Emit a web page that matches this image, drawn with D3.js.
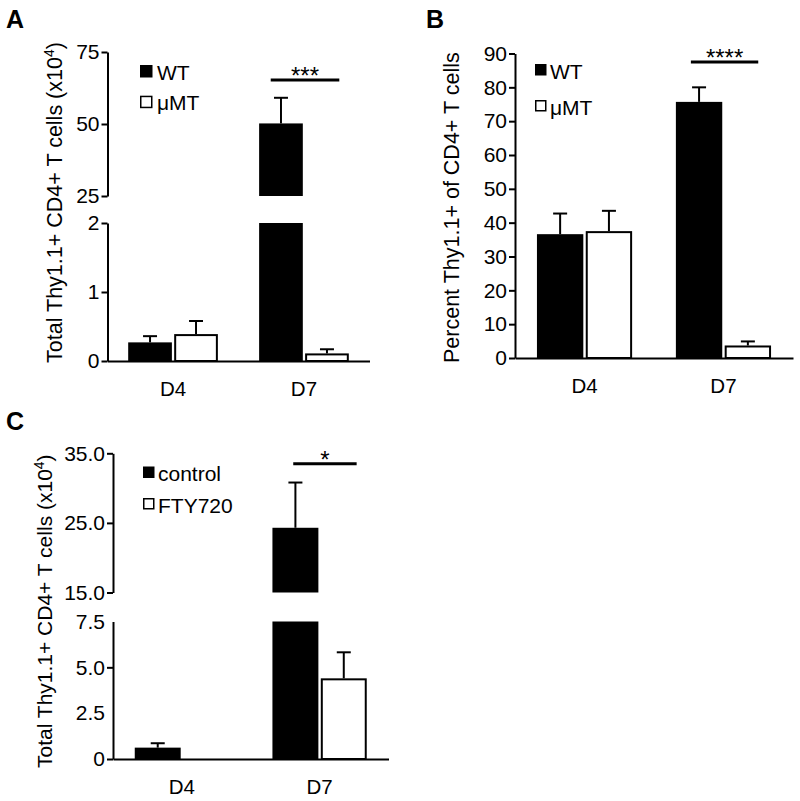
<!DOCTYPE html>
<html><head><meta charset="utf-8">
<script src="https://cdn.jsdelivr.net/npm/d3@7"></script>
<style>body{margin:0;background:#fff} svg{display:block}</style>
</head><body>
<svg id="chart" width="800" height="801"></svg>
<script>
// ---------------- DATA ----------------
const categories = ["D4", "D7"];

// Panel A
const aSeries = ["WT", "μMT"];
const aWT = [0.27, 50.2];
const aWTerr = [0.09, 8.9];
const aMT = [0.39, 0.11];
const aMTerr = [0.19, 0.06];
const aUpperTicks = [25, 50, 75];
const aUpperLabels = ["25", "50", "75"];
const aLowerTicks = [0, 1, 2];
const aLowerLabels = ["0", "1", "2"];
const aSigLevel = 65.3;
const aSigLabel = "***";

// Panel B
const bSeries = ["WT", "μMT"];
const bWT = [36.6, 75.7];
const bWTerr = [6.1, 4.3];
const bMT = [37.5, 3.7];
const bMTerr = [6.0, 1.2];
const bTicks = [0, 10, 20, 30, 40, 50, 60, 70, 80, 90];
const bLabels = ["0", "10", "20", "30", "40", "50", "60", "70", "80", "90"];
const bSigLevel = 87.5;
const bSigLabel = "****";

// Panel C
const cSeries = ["control", "FTY720"];
const cCtrl = [0.62, 24.3];
const cCtrlErr = [0.24, 6.5];
const cFTY = [0, 4.40];
const cFTYerr = [0, 1.42];
const cUpperTicks = [15, 25, 35];
const cUpperLabels = ["15.0", "25.0", "35.0"];
const cLowerTicks = [0, 2.5, 5, 7.5];
const cLowerLabels = ["0", "2.5", "5.0", "7.5"];
const cSigLevel = 33.5;
const cSigLabel = "*";

const titleAC = ["Total Thy1.1+ CD4+ T cells (x10", "4", ")"];
const titleB = ["Percent Thy1.1+ of CD4+ T cells"];

// ---------------- DRAW ----------------
const FONT = '"Liberation Sans", Arial, Helvetica, sans-serif';
const svg = d3.select("#chart");

function drawPanel(cfg) {
  const g = svg.append("g");
  const x = d3.scaleBand().domain(categories).range([cfg.axisX, cfg.xEnd])
    .paddingInner(0.315).paddingOuter(0.158);
  const xs = d3.scaleBand().domain(cfg.series).range([0, x.bandwidth()]).paddingInner(0.05);
  const segs = cfg.segments.map(s => Object.assign({}, s, {
    y: d3.scaleLinear().domain(s.domain).range(s.range)
  }));

  // y axis segments
  segs.forEach(s => {
    const ax = d3.axisLeft(s.y).tickValues(s.ticks)
      .tickFormat((d, i) => s.labels[i]).tickSize(6).tickSizeOuter(0).tickPadding(2);
    const ag = g.append("g").attr("transform", `translate(${cfg.axisX},0)`).call(ax);
    ag.attr("font-size", 21).attr("font-family", FONT);
    ag.select(".domain").attr("stroke", "#000").attr("stroke-width", 2);
    ag.selectAll(".tick line").attr("stroke", "#000").attr("stroke-width", 2)
      .attr("x2", d => (s.noTick && s.noTick.includes(d)) ? 0 : -6);
    ag.selectAll(".tick text").attr("fill", "#000");
  });

  // x axis
  const base = segs[0];
  const xg = g.append("g").attr("transform", `translate(0,${base.y(0)})`)
    .call(d3.axisBottom(x).tickSize(0).tickSizeOuter(0).tickPadding(20));
  xg.attr("font-size", 20.5).attr("font-family", FONT);
  xg.select(".domain").attr("stroke", "#000").attr("stroke-width", 2);
  xg.selectAll(".tick text").attr("fill", "#000");

  // bars
  cfg.series.forEach((ser, si) => {
    const filled = si === 0;
    categories.forEach((cat, ci) => {
      const v = cfg.values[si][ci];
      const e = cfg.errors[si][ci];
      const x0 = x(cat) + xs(ser);
      const w = xs.bandwidth();
      segs.forEach(s => {
        const lo = Math.max(0, s.domain[0]);
        const hi = Math.min(v, s.domain[1]);
        if (hi > lo) {
          const yt = s.y(hi), yb = s.y(lo);
          if (filled) {
            g.append("rect").attr("x", x0).attr("y", yt).attr("width", w).attr("height", yb - yt)
              .attr("fill", "#000");
          } else {
            g.append("rect").attr("x", x0 + 1).attr("y", yt + 1).attr("width", w - 2).attr("height", yb - yt - 1)
              .attr("fill", "#fff").attr("stroke", "#000").attr("stroke-width", 2);
          }
        }
      });
      // error bar
      if (v > 0 && e > 0) {
        const s = segs.find(s => v >= s.domain[0] && v <= s.domain[1]);
        if (s) {
          const cx = x0 + w / 2;
          const yv = s.y(v), ye = s.y(v + e);
          g.append("line").attr("x1", cx).attr("x2", cx).attr("y1", yv).attr("y2", ye)
            .attr("stroke", "#000").attr("stroke-width", 2);
          g.append("line").attr("x1", cx - 7).attr("x2", cx + 7).attr("y1", ye).attr("y2", ye)
            .attr("stroke", "#000").attr("stroke-width", 2);
        }
      }
    });
  });

  // significance
  const ss = segs[cfg.sig.seg];
  const sy = ss.y(cfg.sig.level);
  const sx1 = x(cfg.sig.cat) + cfg.sig.left;
  const sx2 = x(cfg.sig.cat) + x.bandwidth() - cfg.sig.right;
  g.append("line").attr("x1", sx1).attr("x2", sx2).attr("y1", sy).attr("y2", sy)
    .attr("stroke", "#000").attr("stroke-width", 3);
  g.append("text").attr("x", (sx1 + sx2) / 2).attr("y", sy + 4).attr("text-anchor", "middle")
    .attr("font-family", FONT).attr("font-size", 24).text(cfg.sig.label);

  // legend
  cfg.series.forEach((ser, si) => {
    const ly = cfg.legend.y + si * cfg.legend.dy;
    const sz = cfg.legend.size;
    if (si === 0) {
      g.append("rect").attr("x", cfg.legend.x).attr("y", ly).attr("width", sz).attr("height", sz).attr("fill", "#000");
    } else {
      g.append("rect").attr("x", cfg.legend.x + 0.75).attr("y", ly + 0.75).attr("width", sz - 1.5).attr("height", sz - 1.5)
        .attr("fill", "#fff").attr("stroke", "#000").attr("stroke-width", 1.5);
    }
    g.append("text").attr("x", cfg.legend.tx).attr("y", ly + 14.5)
      .attr("font-family", FONT).attr("font-size", 21).text(ser);
  });

  // y title
  const t = g.append("text").attr("transform", `translate(${cfg.title.x},${cfg.title.y}) rotate(-90)`)
    .attr("text-anchor", "start").attr("font-family", FONT).attr("font-size", cfg.title.size);
  t.append("tspan").text(cfg.title.parts[0]);
  if (cfg.title.parts.length > 1) {
    t.append("tspan").attr("font-size", 14).attr("dy", -8).text(cfg.title.parts[1]);
    t.append("tspan").attr("dy", 8).text(cfg.title.parts[2]);
  }

  // panel letter
  g.append("text").attr("x", cfg.letter.x).attr("y", cfg.letter.y)
    .attr("font-family", FONT).attr("font-weight", "bold").attr("font-size", 25).text(cfg.letter.t);
}

drawPanel({
  series: aSeries, values: [aWT, aMT], errors: [aWTerr, aMTerr],
  axisX: 107.5, xEnd: 369.5,
  segments: [
    {domain: [0, 2], range: [361, 223], ticks: aLowerTicks, labels: aLowerLabels},
    {domain: [25, 75], range: [196, 52], ticks: aUpperTicks, labels: aUpperLabels}
  ],
  sig: {cat: "D7", seg: 1, level: aSigLevel, label: aSigLabel, left: 11.6, right: 9.5},
  legend: {x: 140, y: 65, dy: 30.7, size: 12.5, tx: 157},
  title: {x: 62, y: 363, size: 21.5, parts: titleAC},
  letter: {x: 6, y: 28, t: "A"}
});

drawPanel({
  series: bSeries, values: [bWT, bMT], errors: [bWTerr, bMTerr],
  axisX: 515, xEnd: 793,
  segments: [
    {domain: [0, 90], range: [358, 53.5], ticks: bTicks, labels: bLabels}
  ],
  sig: {cat: "D7", seg: 0, level: bSigLevel, label: bSigLabel, left: 15, right: 12.8},
  legend: {x: 535, y: 64, dy: 36, size: 11.5, tx: 550},
  title: {x: 458.5, y: 363, size: 21.5, parts: titleB},
  letter: {x: 426, y: 28, t: "B"}
});

drawPanel({
  series: cSeries, values: [cCtrl, cFTY], errors: [cCtrlErr, cFTYerr],
  axisX: 113, xEnd: 388.5,
  segments: [
    {domain: [0, 7.5], range: [759, 621.5], ticks: cLowerTicks, labels: cLowerLabels, noTick: [2.5, 7.5]},
    {domain: [15, 35], range: [592.5, 453.3], ticks: cUpperTicks, labels: cUpperLabels}
  ],
  sig: {cat: "D7", seg: 1, level: cSigLevel, label: cSigLabel, left: 20.8, right: 10.1},
  legend: {x: 143, y: 466.5, dy: 31.5, size: 11.5, tx: 158},
  title: {x: 52, y: 768, size: 21, parts: titleAC},
  letter: {x: 6, y: 430, t: "C"}
});
</script>
</body></html>
